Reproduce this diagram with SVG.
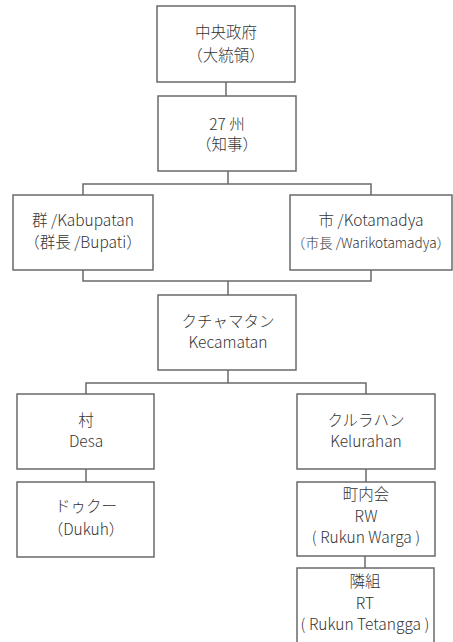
<svg xmlns="http://www.w3.org/2000/svg" width="453" height="642" viewBox="0 0 453 642">
<style>
rect.b{fill:#fff;stroke:#6a6a6a;stroke-width:1.5}
.c path{fill:none;stroke:#6a6a6a;stroke-width:1.5}
text{font-family:"Noto Sans CJK JP","Noto Sans",sans-serif;font-size:15.5px;fill:#333;text-anchor:middle;font-weight:300}
</style>
<rect width="453" height="642" fill="#fff"/>
<g class="c" id="connectors">
<path d="M226 82V96"/>
<path d="M228 171V184M83 195V184H371V195"/>
<path d="M83 270V281H371V270M228 281V295"/>
<path d="M228 370V383M86 394V383H366V394"/>
<path d="M86 469V482"/>
<path d="M366 469V482"/>
<path d="M365 556V568"/>
</g>
<g id="n1"><rect class="b" x="157" y="6" width="138" height="76"/><text x="226" y="38">中央政府</text><text x="226" y="61">（大統領）</text></g>
<g id="n2"><rect class="b" x="158" y="96" width="138" height="75"/><text x="227" y="130">27 州</text><text x="227" y="150">（知事）</text></g>
<g id="n3"><rect class="b" x="13" y="195" width="140" height="75"/><text x="83" y="226">群 /Kabupatan</text><text x="83" y="248">（群長 /Bupati）</text></g>
<g id="n4"><rect class="b" x="290" y="195" width="162" height="75"/><text x="371" y="226">市 /Kotamadya</text><text x="371" y="248" style="font-size:13.6px">（市長 /Warikotamadya）</text></g>
<g id="n5"><rect class="b" x="158" y="295" width="138" height="75"/><text x="228" y="327">クチャマタン</text><text x="228" y="348">Kecamatan</text></g>
<g id="n6"><rect class="b" x="17" y="394" width="137" height="75"/><text x="86" y="426">村</text><text x="86" y="447">Desa</text></g>
<g id="n7"><rect class="b" x="297" y="394" width="138" height="75"/><text x="366" y="426">クルラハン</text><text x="366" y="447">Kelurahan</text></g>
<g id="n8"><rect class="b" x="17" y="482" width="137" height="75"/><text x="86" y="512">ドゥクー</text><text x="86" y="535">（Dukuh）</text></g>
<g id="n9"><rect class="b" x="297" y="482" width="138" height="74"/><text x="366" y="500">町内会</text><text x="366" y="522">RW</text><text x="366" y="543">( Rukun Warga )</text></g>
<g id="n10"><rect class="b" x="297" y="568" width="137" height="80"/><text x="365" y="587">隣組</text><text x="365" y="609">RT</text><text x="365" y="630">( Rukun Tetangga )</text></g>
</svg>
